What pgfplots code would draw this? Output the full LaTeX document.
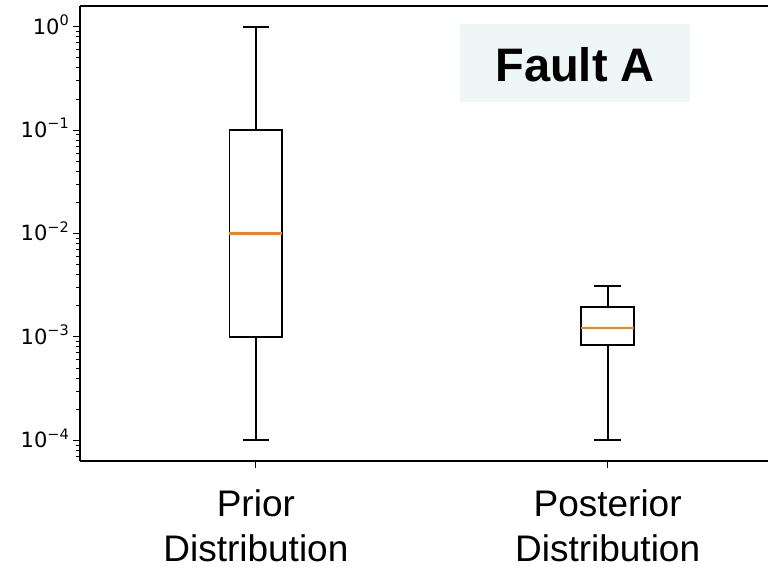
\documentclass[border=0pt]{standalone}
\usepackage{pgfplots}
\pgfplotsset{compat=1.18}
\usepackage{fontspec}
\setmainfont{Liberation Sans}
\newfontfamily\dejavu{DejaVu Sans}
\definecolor{medorange}{HTML}{FF7F0E}
\definecolor{notefill}{HTML}{EEF7F6}

% y tick label in the style 10^{k}
\newcommand{\pow}[1]{{\dejavu\fontsize{21}{24}\selectfont 10\raisebox{0.42em}{\fontsize{14.5}{14.5}\selectfont #1}}}

\tikzset{
  boxline/.style={draw=black, solid, line width=1.8pt, line join=miter},
  medline/.style={draw=medorange, solid, line width=2.2pt},
}

\begin{document}
\begin{tikzpicture}
\begin{axis}[
  name=ax,
  scale only axis,
  width=688pt, height=455pt,
  xmin=0.5, xmax=2.456,
  ymode=log,
  ymin=6.3096e-5, ymax=1.5849,
  axis y line*=left,
  axis x line*=box,
  axis line style={black, line width=1.1pt},
  tick align=outside,
  xtick pos=bottom, ytick pos=left,
  major tick length=7pt, minor tick length=4pt,
  major tick style={black, line width=1pt},
  minor tick style={black, line width=0.9pt},
  xtick={1,2},
  xticklabels={Prior\\Distribution, Posterior\\Distribution},
  xticklabel style={align=center, inner sep=0pt, anchor=north, yshift=-22pt,
                    font=\fontsize{37}{45}\selectfont},
  ytick={1e-4,1e-3,1e-2,1e-1,1},
  yticklabels={\pow{−4},\pow{−3},\pow{−2},\pow{−1},\pow{0}},
  minor ytick={7e-5,8e-5,9e-5,
    2e-4,3e-4,4e-4,5e-4,6e-4,7e-4,8e-4,9e-4,
    2e-3,3e-3,4e-3,5e-3,6e-3,7e-3,8e-3,9e-3,
    2e-2,3e-2,4e-2,5e-2,6e-2,7e-2,8e-2,9e-2,
    2e-1,3e-1,4e-1,5e-1,6e-1,7e-1,8e-1,9e-1},
  yticklabel style={anchor=base east, inner sep=0pt, xshift=-4pt, yshift=-7.5pt},
  clip=false,
]
% annotation panel
\fill[notefill] (rel axis cs:0.552,0.789) rectangle (rel axis cs:0.887,0.960);
\node[anchor=base, inner sep=0pt, font=\fontsize{47}{50}\selectfont\bfseries]
  at (rel axis cs:0.7195,0.835) {Fault A};

% ---- prior distribution at x = 1 ----
% whiskers: 1e-4 .. 1e-3 and 1e-1 .. 1
\addplot[mark=none, boxline] coordinates {(1,1e-4) (1,1e-3)};
\addplot[mark=none, boxline] coordinates {(1,1e-1) (1,1)};
% caps
\addplot[mark=none, boxline] coordinates {(0.9625,1e-4) (1.0375,1e-4)};
\addplot[mark=none, boxline] coordinates {(0.9625,1) (1.0375,1)};
% box: quartiles 1e-3 .. 1e-1
\addplot[mark=none, boxline] coordinates {(0.925,1e-3) (1.075,1e-3) (1.075,1e-1) (0.925,1e-1) (0.925,1e-3) (1.075,1e-3)};
% median 1e-2
\addplot[mark=none, medline] coordinates {(0.925,1e-2) (1.075,1e-2)};

% ---- posterior distribution at x = 2 ----
% whiskers: 1e-4 .. 8.4e-4 and 1.96e-3 .. 3.12e-3
\addplot[mark=none, boxline] coordinates {(2,1e-4) (2,8.4e-4)};
\addplot[mark=none, boxline] coordinates {(2,1.96e-3) (2,3.12e-3)};
% caps
\addplot[mark=none, boxline] coordinates {(1.9625,1e-4) (2.0375,1e-4)};
\addplot[mark=none, boxline] coordinates {(1.9625,3.12e-3) (2.0375,3.12e-3)};
% box: quartiles 8.4e-4 .. 1.96e-3
\addplot[mark=none, boxline] coordinates {(1.925,8.4e-4) (2.075,8.4e-4) (2.075,1.96e-3) (1.925,1.96e-3) (1.925,8.4e-4) (2.075,8.4e-4)};
% median 1.23e-3
\addplot[mark=none, medline] coordinates {(1.925,1.23e-3) (2.075,1.23e-3)};
\end{axis}
\pgfresetboundingbox
\path[use as bounding box] ([xshift=-80pt,yshift=6pt]ax.north west)
  rectangle ([yshift=-108pt]ax.south east);
\end{tikzpicture}
\end{document}
